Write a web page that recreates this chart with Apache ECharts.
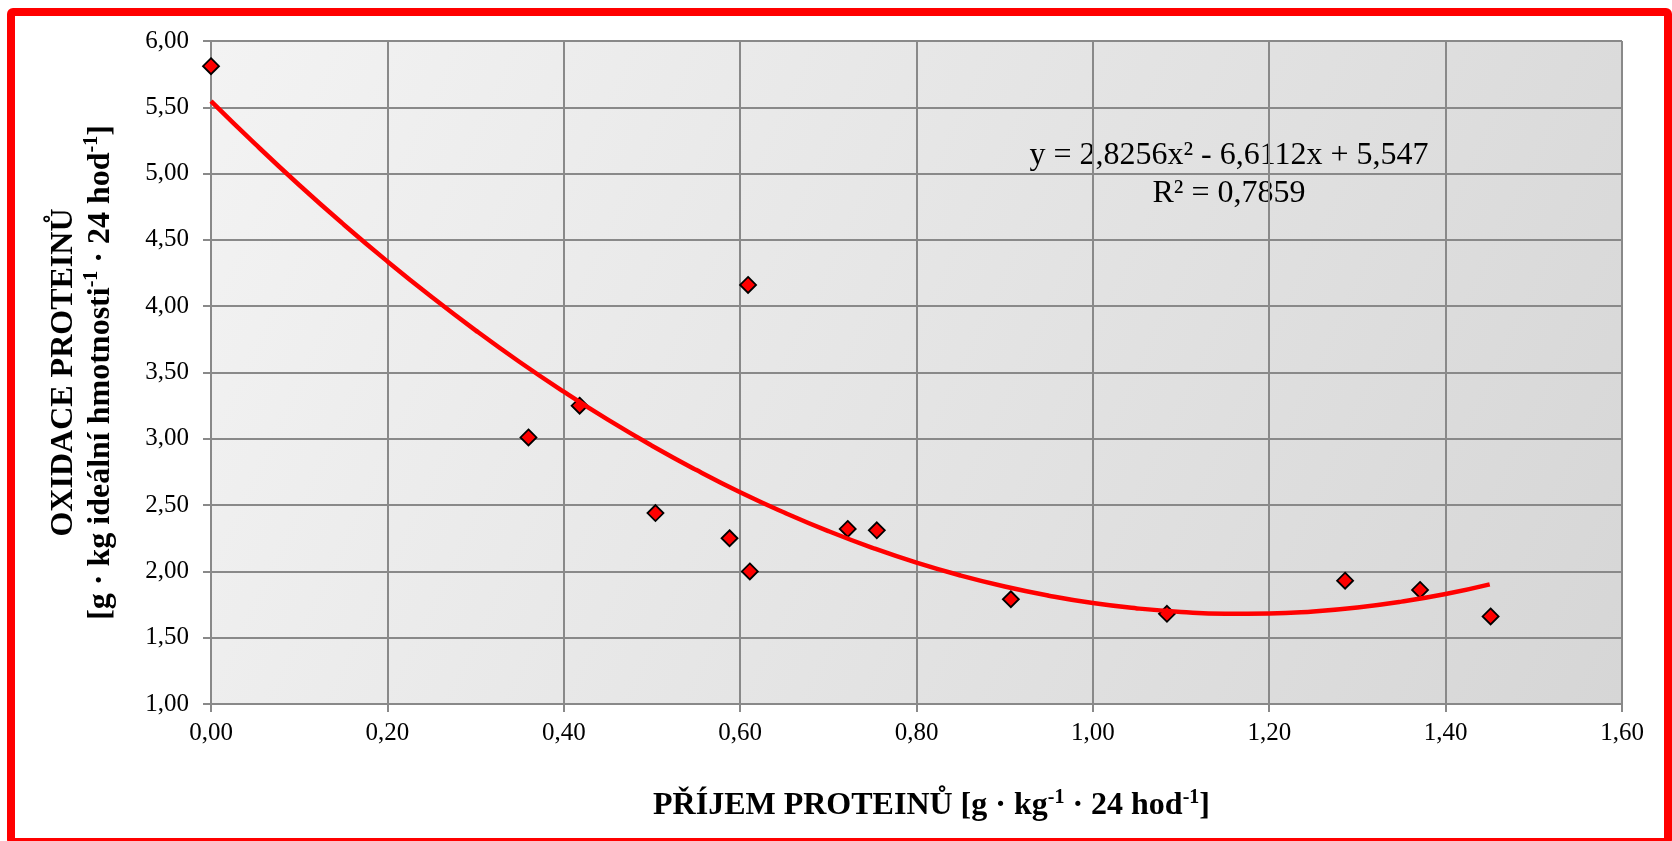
<!DOCTYPE html>
<html>
<head>
<meta charset="utf-8">
<script src="https://cdn.jsdelivr.net/npm/echarts@6/dist/echarts.min.js"></script>
<style>
html,body{margin:0;padding:0;width:1672px;height:841px;overflow:hidden;background:#fff;}
#chart{position:absolute;left:0;top:0;width:1672px;height:841px;}
#frame{position:absolute;left:7px;top:8px;width:1665px;height:838px;box-sizing:border-box;border:8px solid #ff0000;border-radius:6px;pointer-events:none;}
</style>
</head>
<body>
<div id="chart"></div>
<div id="frame"></div>
<script>
// Measured points: protein intake (x) vs protein oxidation (y)
const intakeX = [0.000, 0.360, 0.418, 0.504, 0.588, 0.609, 0.611, 0.722, 0.755, 0.907, 1.084, 1.286, 1.371, 1.451];
const oxidationY = [5.81, 3.01, 3.25, 2.44, 2.25, 4.16, 2.00, 2.32, 2.31, 1.79, 1.68, 1.93, 1.86, 1.66];

// Polynomial trendline
const trendX = [0.00, 0.05, 0.10, 0.15, 0.20, 0.25, 0.30, 0.35, 0.40, 0.45, 0.50, 0.55, 0.60, 0.65, 0.70, 0.75,
                0.80, 0.85, 0.90, 0.95, 1.00, 1.05, 1.10, 1.15, 1.20, 1.25, 1.30, 1.35, 1.40, 1.45];
const trendY = [5.547, 5.224, 4.914, 4.619, 4.338, 4.071, 3.818, 3.579, 3.355, 3.144, 2.948, 2.766, 2.597, 2.444, 2.304, 2.178,
                2.066, 1.969, 1.886, 1.817, 1.761, 1.721, 1.694, 1.681, 1.682, 1.698, 1.728, 1.772, 1.829, 1.902];

const equationLines = ['y = 2,8256x² - 6,6112x + 5,547', 'R² = 0,7859'];

const xTicks = {min: 0, max: 1.6, interval: 0.2};
const yTicks = {min: 1, max: 6, interval: 0.5};

const FONT = '"Liberation Serif", "Times New Roman", serif';
const fmt = v => v.toFixed(2).replace('.', ',');

const chart = echarts.init(document.getElementById('chart'), null, {renderer: 'canvas'});

const scatterData = intakeX.map((x, i) => [x, oxidationY[i]]);
const trendData = trendX.map((x, i) => [x, trendY[i]]);

const gridColor = '#898989';

const option = {
  backgroundColor: '#ffffff',
  animation: false,
  grid: {
    left: 211, right: 50, top: 41, bottom: 137,
    show: true,
    borderWidth: 0,
    backgroundColor: new echarts.graphic.LinearGradient(0, 0, 1, 1, [
      {offset: 0, color: '#f3f3f3'},
      {offset: 1, color: '#d6d6d6'}
    ])
  },
  xAxis: {
    type: 'value',
    min: xTicks.min, max: xTicks.max, interval: xTicks.interval,
    axisLine: {show: true, onZero: false, lineStyle: {color: gridColor, width: 2}},
    axisTick: {show: true, length: 8, lineStyle: {color: gridColor, width: 2}},
    splitLine: {show: true, lineStyle: {color: gridColor, width: 2}},
    axisLabel: {color: '#000', fontFamily: FONT, fontSize: 25, margin: 17, formatter: fmt},
    name: '{b|PŘÍJEM PROTEINŮ [g · kg}{s|-1}{b| · 24 hod}{s|-1}{b|]}',
    nameLocation: 'middle',
    nameGap: 84,
    nameTextStyle: {
      padding: [0, 0, 0, 30],
      rich: {
        b: {fontFamily: FONT, fontSize: 32, fontWeight: 'bold', color: '#000', lineHeight: 36},
        s: {fontFamily: FONT, fontSize: 20, fontWeight: 'bold', color: '#000', lineHeight: 36, verticalAlign: 'top'}
      }
    }
  },
  yAxis: {
    type: 'value',
    min: yTicks.min, max: yTicks.max, interval: yTicks.interval,
    axisLine: {show: true, onZero: false, lineStyle: {color: gridColor, width: 2}},
    axisTick: {show: true, length: 8, lineStyle: {color: gridColor, width: 2}},
    splitLine: {show: true, lineStyle: {color: gridColor, width: 2}},
    axisLabel: {color: '#000', fontFamily: FONT, fontSize: 25, margin: 22, formatter: fmt},
    name: '{b|OXIDACE PROTEINŮ}\n{b|[g · kg ideální hmotnosti}{s|-1}{b| · 24 hod}{s|-1}{b|]}',
    nameLocation: 'middle',
    nameRotate: 90,
    nameGap: 92,
    nameTextStyle: {
      align: 'center',
      rich: {
        b: {fontFamily: FONT, fontSize: 32, fontWeight: 'bold', color: '#000', lineHeight: 37, align: 'center'},
        s: {fontFamily: FONT, fontSize: 20, fontWeight: 'bold', color: '#000', lineHeight: 37, verticalAlign: 'top'}
      }
    }
  },
  series: [
    {
      type: 'scatter',
      data: scatterData,
      symbol: 'diamond',
      symbolSize: 16,
      itemStyle: {color: '#ff0000', borderColor: '#000', borderWidth: 1.8, opacity: 1},
      z: 2
    },
    {
      type: 'line',
      data: trendData,
      smooth: true,
      showSymbol: false,
      symbol: 'none',
      lineStyle: {color: '#ff0000', width: 4.5},
      z: 3
    }
  ],
  graphic: [
    {
      type: 'text',
      x: 1229, y: 137,
      style: {
        text: equationLines.join('\n'),
        font: '32px ' + FONT,
        fill: '#000',
        align: 'center',
        verticalAlign: 'top',
        lineHeight: 38
      }
    }
  ]
};
chart.setOption(option);
</script>
</body>
</html>
